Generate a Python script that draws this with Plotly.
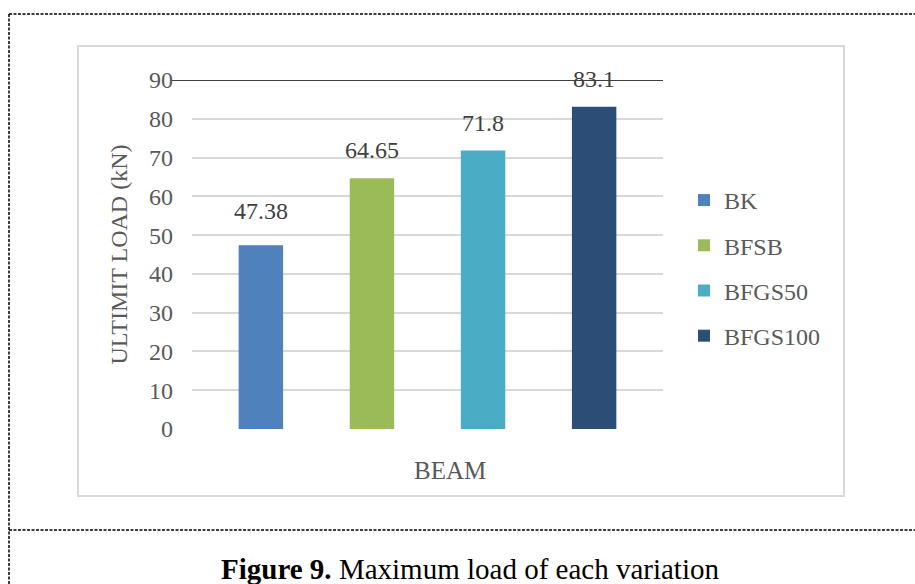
import plotly.graph_objects as go

# ---- data ----
beams = ["BK", "BFSB", "BFGS50", "BFGS100"]
loads = [47.38, 64.65, 71.8, 83.1]
label_texts = ["47.38", "64.65", "71.8", "83.1"]
colors = ["#4F81BD", "#9BBB59", "#4BACC6", "#2C4D75"]
y_ticks = [0, 10, 20, 30, 40, 50, 60, 70, 80, 90]

# label vertical offsets (style)
label_shift = [19, 13, 13, 13]

W, H = 915, 584
L, R, T, B = 192, 252, 80, 155
PW, PH = W - L - R, H - T - B

def px(x):
    return (x - L) / PW

def py(y):
    return (H - B - y) / PH

FONT = "Liberation Serif, Times New Roman, serif"

fig = go.Figure()
for i, (name, val, col) in enumerate(zip(beams, loads, colors)):
    fig.add_trace(go.Bar(
        x=[i], y=[val], name=name, marker=dict(color=col, line=dict(width=0)),
        width=0.4, legendgroup=name,
    ))
    fig.add_annotation(x=i, y=val, text=label_texts[i], showarrow=False,
                       yanchor="bottom", yshift=label_shift[i],
                       font=dict(family=FONT, size=24, color="#404040"))

shapes = []
shapes.append(dict(type="rect", xref="paper", yref="paper",
                   x0=px(78), x1=px(844), y0=py(496), y1=py(46),
                   line=dict(color="#D9D9D9", width=2), layer="below"))
shapes.append(dict(type="line", xref="paper", yref="y",
                   x0=px(172), x1=1, y0=90, y1=90,
                   line=dict(color="#404040", width=2)))
dash = dict(color="black", width=1.5, dash="3px,1.5px")
shapes.append(dict(type="line", xref="paper", yref="paper",
                   x0=px(9), x1=px(W + 5), y0=py(14), y1=py(14), line=dash))
shapes.append(dict(type="line", xref="paper", yref="paper",
                   x0=px(9), x1=px(9), y0=py(14), y1=py(H + 5), line=dash))
shapes.append(dict(type="line", xref="paper", yref="paper",
                   x0=px(9), x1=px(W + 5), y0=py(530), y1=py(530), line=dash))

fig.add_annotation(xref="paper", yref="paper", x=px(450), y=py(470),
                   xanchor="center", yanchor="middle",
                   text="BEAM", showarrow=False,
                   font=dict(family=FONT, size=25, color="#595959"))
fig.add_annotation(xref="paper", yref="paper", x=px(470), y=py(569),
                   xanchor="center", yanchor="middle",
                   text="<b>Figure 9.</b> Maximum load of each variation",
                   showarrow=False,
                   font=dict(family=FONT, size=29, color="black"))

fig.update_layout(
    width=W, height=H,
    margin=dict(l=L, r=R, t=T, b=B),
    paper_bgcolor="white", plot_bgcolor="white",
    barmode="overlay",
    showlegend=True,
    legend=dict(x=px(684), y=py(178), xanchor="left", yanchor="top",
                font=dict(family=FONT, size=24, color="#595959"),
                traceorder="grouped", tracegroupgap=11,
                bgcolor="rgba(0,0,0,0)", itemwidth=30),
    shapes=shapes,
    font=dict(family=FONT),
)
fig.update_xaxes(range=[-0.62, 3.62], showticklabels=False, showgrid=False,
                 zeroline=False, showline=False)
fig.update_yaxes(range=[0, 90], tickvals=y_ticks, showgrid=True,
                 gridcolor="#D9D9D9", gridwidth=2, zeroline=False,
                 showline=False, ticklabelstandoff=18,
                 tickfont=dict(family=FONT, size=24, color="#595959"),
                 title=dict(text="ULTIMIT LOAD (kN)", standoff=14,
                            font=dict(family=FONT, size=24, color="#595959")))

fig.write_html("out.html", config={"displayModeBar": False},
               post_script="document.body.style.margin='0';document.body.style.overflow='hidden';")
